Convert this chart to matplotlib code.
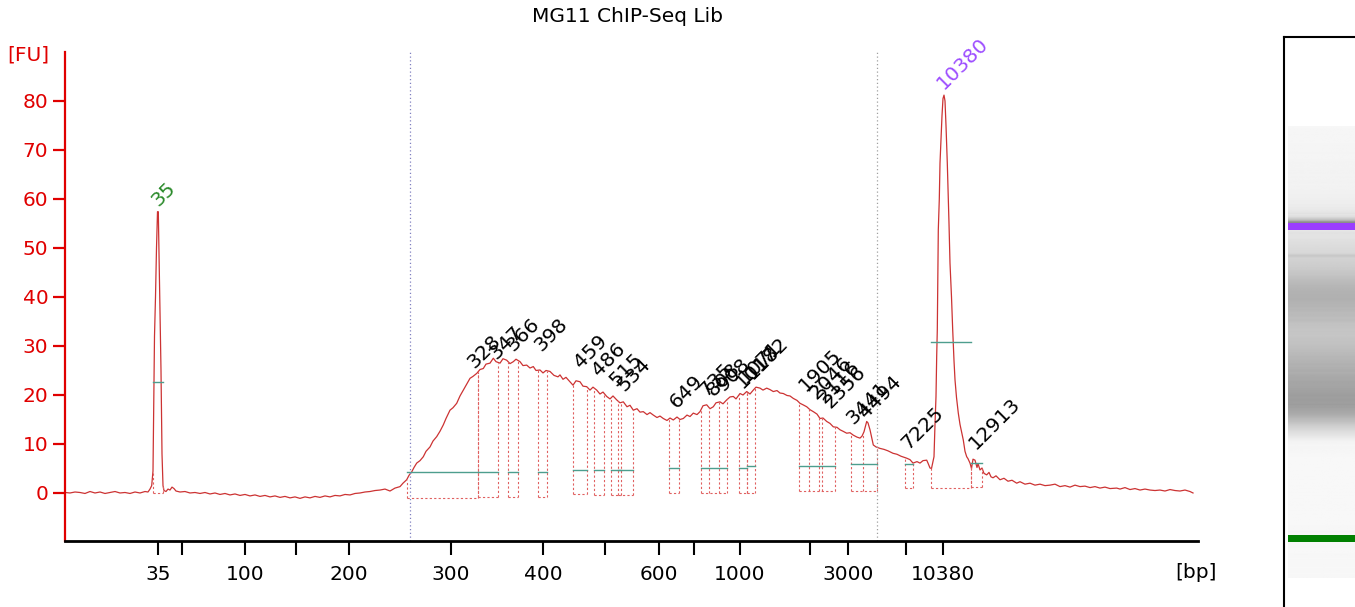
import numpy as np
import matplotlib
matplotlib.use('Agg')
import matplotlib.pyplot as plt
from matplotlib.transforms import ScaledTranslation

# electropherogram trace: migration position (axis units) and fluorescence [FU]
trace_pos = [65, 70, 75, 80, 85, 90, 95, 100, 105, 110, 115, 120, 125, 130, 135, 140, 145, 148,
             150, 151.7, 153, 153.8, 154.5, 155.5, 156.5, 157.5, 158.3, 159.3, 160.3, 161, 161.6, 162, 163, 164,
             166, 168, 170, 172, 174, 176, 180, 185, 190, 195, 200, 205, 210, 215, 220, 225, 230, 235,
             240, 245, 250, 255, 260, 265, 270, 275, 280, 285, 290, 295, 300, 305, 310, 315, 320, 325,
             330, 335, 340, 345, 350, 355, 360, 365, 370, 375, 380, 385, 390, 395, 400, 403, 406.7, 409,
             411.7, 414, 416.7, 420, 423.3, 426, 430, 433, 436.7, 440, 443.3, 446, 450, 453, 456.7, 460,
             463.3, 466, 470, 473, 476.7, 480, 483.3, 486, 490, 493.3, 496, 500, 503, 506.7, 510, 513.3,
             516, 520, 523, 526.7, 530, 533.3, 536, 540, 543, 546, 550, 554, 558, 560, 563, 566, 570, 573,
             576, 580, 583, 586.7, 590, 593, 596.7, 600, 603, 606.7, 610, 613, 616.7, 620, 623.3, 627, 630,
             633.3, 637, 640, 643.3, 647, 650, 653.3, 657, 660, 663.3, 667, 670, 673.3, 677, 680, 683.3,
             687, 690, 693.3, 697, 700, 703, 706.7, 710, 713.3, 716, 720, 723, 726.7, 730, 733.3, 736, 740,
             743, 746.7, 750, 753.3, 756, 760, 763, 766.7, 770, 773.3, 777, 780, 783.3, 787, 790, 793.3,
             797, 800, 803, 806.7, 810, 813.3, 817, 820, 823, 826.7, 830, 833.3, 837, 840, 843, 846.7, 850,
             853.3, 857, 860, 862, 864, 866.7, 868, 870, 872, 873.3, 876, 880, 884, 888, 893, 897, 901,
             906.7, 910, 913, 917, 920, 923, 926.7, 928, 930, 931.5, 933, 934, 935, 936, 936.7, 937.3,
             938.3, 939.3, 940, 941, 942, 943, 944, 945, 946, 947.3, 948.3, 949, 950, 951.5, 952.7, 954,
             955, 956.5, 958.3, 960, 963.3, 965, 966.7, 968, 970, 971.5, 973, 975, 977, 978, 980, 982, 984,
             986.7, 989, 991, 993, 996, 1000, 1004, 1008, 1012, 1016.7, 1020, 1025, 1030, 1035, 1040,
             1045, 1050, 1055, 1060, 1065, 1070, 1075, 1080, 1085, 1090, 1095, 1100, 1105, 1110, 1116.7,
             1120, 1125, 1130, 1135, 1140, 1145, 1150, 1155, 1160, 1165, 1170, 1175, 1180, 1185, 1190, 1193]
trace_fu = [0.1, 0.0, 0.2, 0.1, -0.1, 0.3, 0.0, 0.2, -0.1, 0.1, 0.3, 0.0, 0.1, -0.1, 0.2, 0.0, 0.3, 0.2,
            0.8, 1.5, 4.5, 20, 32, 40, 50, 57.4, 57.4, 45, 33, 25, 15, 8, 1.5, 0.5,
            0.3, 0.8, 0.6, 1.2, 0.9, 0.4, 0.2, 0.3, 0.0, 0.1, -0.1, 0.1, -0.2, 0.0, -0.3, -0.1, -0.4, -0.2,
            -0.5, -0.3, -0.6, -0.4, -0.7, -0.5, -0.8, -0.6, -0.9, -0.7, -1.0, -0.8, -1.1, -0.8, -1.0, -0.7, -0.9, -0.6,
            -0.8, -0.5, -0.6, -0.3, -0.4, -0.1, 0.0, 0.2, 0.3, 0.5, 0.6, 0.8, 0.4, 1.0, 1.3, 2.0, 2.7, 3.6,
            4.3, 5.2, 6.1, 6.6, 7.4, 8.5, 9.4, 10.6, 11.5, 12.6, 13.9, 15.2, 16.9, 17.4, 18.3, 19.8,
            21.0, 22.0, 23.4, 23.8, 24.4, 25.2, 25.4, 26.3, 26.5, 27.5, 26.8, 26.5, 27.4, 27.1, 26.4, 26.8,
            27.3, 26.8, 26.0, 26.1, 25.5, 25.8, 25.0, 25.1, 24.5, 25.0, 24.8, 24.0, 23.7, 24.1, 23.2, 23.6, 22.7, 22.0,
            22.9, 22.7, 21.8, 21.7, 21.0, 21.6, 21.0, 20.2, 20.6, 19.7, 19.2, 19.8, 19.0, 18.4, 18.6, 17.6, 17.9,
            16.9, 17.2, 16.5, 16.6, 16.0, 16.4, 15.9, 15.4, 15.7, 15.2, 14.8, 15.3, 14.9, 15.5, 15.0, 15.2,
            15.9, 15.6, 16.3, 16.0, 16.6, 17.8, 18.0, 17.2, 17.6, 18.4, 18.6, 18.2, 19.0, 19.6, 19.7, 19.2, 20.3,
            20.0, 20.7, 20.2, 21.0, 21.6, 21.4, 21.0, 21.4, 21.1, 20.7, 20.9, 20.4, 20.3, 19.9, 19.8, 19.3,
            18.9, 18.3, 18.0, 17.6, 17.0, 16.6, 16.1, 15.2, 15.3, 14.6, 14.2, 13.5, 13.4, 12.9, 12.6, 12.2, 12.3,
            11.8, 11.4, 11.2, 11.6, 12.5, 14.6, 14.3, 12.9, 11.0, 9.8, 9.4, 9.1, 8.9, 8.6, 8.1, 7.9, 7.5,
            7.1, 6.8, 6.1, 6.4, 6.1, 6.6, 6.7, 6.1, 5.1, 5.0, 6.5, 7.4, 14, 19.7, 28, 33.3,
            53.7, 60, 67.3, 72, 77, 80.5, 81.2, 80, 75, 67.3, 60.5, 55, 46.9, 40, 33.3, 27,
            23.1, 19.5, 16.3, 14, 10.8, 8.5, 7.4, 7.0, 6.1, 5.0, 6.9, 6.7, 5.2, 6.0, 4.7, 5.1, 4.0,
            3.7, 4.2, 3.3, 3.1, 3.5, 2.7, 3.0, 2.4, 2.6, 2.0, 2.3, 1.8, 2.0, 1.6, 1.8,
            1.5, 1.6, 1.8, 1.3, 1.5, 1.2, 1.6, 1.3, 1.4, 1.1, 1.3, 1.0, 1.2, 0.9, 1.0,
            0.8, 1.1, 0.7, 0.9, 0.6, 0.8, 0.6, 0.5, 0.6, 0.4, 0.7, 0.5, 0.4, 0.6, 0.3, 0.0]

# size ladder ticks on the migration axis
tick_pos = [158, 182, 245, 296, 349, 451, 543, 605, 659, 694, 740, 810, 848, 906, 943]
tick_lbl = ['35', '', '100', '', '200', '300', '400', '', '600', '', '1000', '', '3000', '', '10380']

# region markers (dotted vertical lines)
region_pos = [410, 877]

# peak integration boxes: edges, baseline FU, half-height line FU
peak_boxes = [
    ([153, 163], -0.1, 22.7),
    ([406.7, 478.3], -1.1, 4.2),
    ([478.3, 498.3], -0.75, 4.2),
    ([508.3, 518.3], -0.75, 4.2),
    ([538.3, 546.7], -0.75, 4.2),
    ([572.7, 586.7], -0.3, 4.6),
    ([594.3, 604.3], -0.4, 4.6),
    ([610.5, 620.5], -0.4, 4.6),
    ([618.3, 632.5], -0.4, 4.6),
    ([668.5, 679], 0.0, 5.1),
    ([700.7, 709, 719, 727.3], 0.05, 5.2),
    ([739, 746.7], 0.05, 5.1),
    ([746.7, 755], 0.05, 5.5),
    ([799, 809, 819, 821.7, 835], 0.45, 5.5),
    ([850.7, 862.7, 876.7], 0.45, 5.9),
    ([905, 913.3], 1.0, 5.9),
    ([931, 971], 1.0, 30.8),
    ([971, 981.7], 1.3, 6.2),
]

# peak size labels: text, anchor position, anchor FU
peak_lbl = ['35', '328', '347', '366', '398', '459', '486', '515', '534', '649', '735', '808', '908',
            '1017', '1071', '1182', '1905', '2046', '2116', '2356', '3441', '4494', '7225', '10380', '12913']
peak_lbl_pos = [151, 467, 489, 506, 534, 574, 592, 609, 617, 670, 699, 707, 717,
                736, 739, 746, 799, 809, 817, 824, 846, 859, 901, 937, 969]
peak_lbl_fu = [58.8, 25.7, 27.6, 29.2, 29.2, 25.8, 24.1, 22.0, 21.0, 17.6, 20.0, 20.0, 21.0,
               21.6, 22.7, 23.5, 21.0, 19.4, 18.6, 17.6, 14.3, 15.5, 9.2, 82.7, 9.2]

RED = '#e00000'
TRACE = '#cc3333'
BOX = '#e06060'
TEAL = '#4d9e8e'

fig = plt.figure(figsize=(13.55, 6.07), dpi=100)
W, H = 1355, 607
ax = fig.add_axes([65 / W, (H - 541) / H, (1198 - 65) / W, (541 - 52) / H])

ax.plot(trace_pos, trace_fu, color=TRACE, lw=0.9)

for edges, base, half in peak_boxes:
    tops = np.interp(edges, trace_pos, trace_fu)
    for e, t in zip(edges, tops):
        ax.plot([e, e], [base, t], color=BOX, lw=0.8, ls=(0, (2, 2)))
    ax.plot([edges[0], edges[-1]], [base, base], color=BOX, lw=0.8, ls=(0, (2, 2)))
    ax.plot([edges[0], edges[-1]], [half, half], color=TEAL, lw=1.0)

for r, c in zip(region_pos, ['#8080c0', '#a0a0a0']):
    ax.axvline(r, color=c, lw=0.9, ls=(0, (1, 2)))

shift = ax.transData + ScaledTranslation(7 / 100, -2 / 100, fig.dpi_scale_trans)
for t, x, y in zip(peak_lbl, peak_lbl_pos, peak_lbl_fu):
    col = 'black'
    if t == '35':
        col = '#2a8a2a'
    elif t == '10380':
        col = '#9d4dff'
    ax.text(x, y, t, rotation=45, rotation_mode='anchor', ha='left', va='baseline',
            fontsize=14.5, color=col, transform=shift)

ax.set_xlim(65, 1198)
ax.set_ylim(-9.8, 90)
ax.set_yticks(range(0, 90, 10))
ax.set_xticks(tick_pos)
ax.set_xticklabels(tick_lbl)
for s in ['top', 'right']:
    ax.spines[s].set_visible(False)
ax.spines['left'].set_color(RED)
ax.spines['left'].set_linewidth(1.6)
ax.spines['bottom'].set_color('black')
ax.spines['bottom'].set_linewidth(2)
ax.tick_params(axis='y', colors=RED, labelsize=14.5, length=9, width=1.6, pad=3)
ax.tick_params(axis='x', colors='black', labelsize=14.5, length=10, width=1.5, pad=7)

fig.text(28 / W, 1 - 55 / H, '[FU]', color=RED, fontsize=14.5, ha='center', va='center')
fig.text(1196 / W, 1 - 572 / H, '[bp]', color='black', fontsize=14.5, ha='center', va='center')
fig.text(627 / W, 1 - 17 / H, 'MG11 ChIP-Seq Lib', color='black', fontsize=14.5, ha='center', va='center')

# gel-like lane built from the trace
gel_scale = (538 - 226) / (943 - 158)
gax = fig.add_axes([1284 / W, 0, (W - 1284) / W, (H - 37) / H])
gax.set_xlim(0, 1)
gax.set_ylim(158 - (H - 538) / gel_scale, 158 + (538 - 37) / gel_scale)
lane_lo = 158 - (578 - 538) / gel_scale
rows = np.linspace(lane_lo, 1193, 600)
gray = np.clip(0.97 - 0.013 * np.interp(rows, trace_pos, trace_fu), 0.55, 0.97)
gax.imshow(gray[:, None], cmap='gray', vmin=0, vmax=1, origin='lower', aspect='auto',
           extent=(0.06, 1, lane_lo, 1193), interpolation='bilinear')
gax.axhspan(943 - 3.5 / gel_scale, 943 + 3.5 / gel_scale, xmin=0.06, xmax=1, color='#9b3dff', lw=0)
gax.axhspan(158 - 3.5 / gel_scale, 158 + 3.5 / gel_scale, xmin=0.06, xmax=1, color='#008000', lw=0)
gax.set_xticks([])
gax.set_yticks([])
for s in ['bottom', 'right']:
    gax.spines[s].set_visible(False)
gax.spines['left'].set_linewidth(1.5)
gax.spines['top'].set_linewidth(1.5)

fig.savefig('out.png', dpi=100)
